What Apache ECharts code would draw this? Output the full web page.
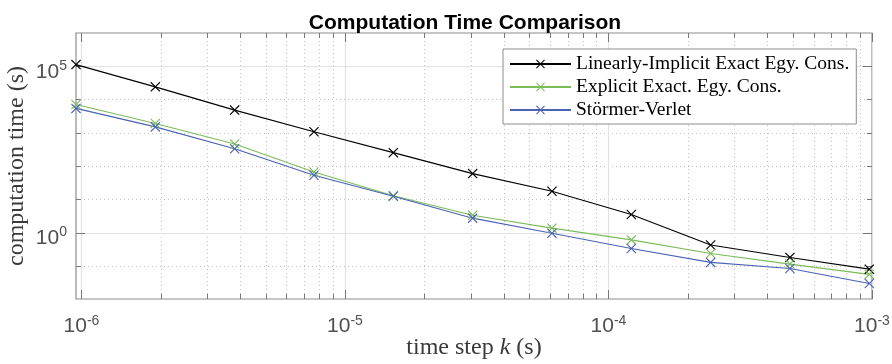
<!DOCTYPE html>
<html><head><meta charset="utf-8">
<script src="https://cdn.jsdelivr.net/npm/echarts@6/dist/echarts.min.js"></script>
<style>html,body{margin:0;padding:0;background:#fff}#c{width:892px;height:364px}</style>
</head><body><div id="c"></div>
<script>
const timeSteps = [9.5367e-7, 1.9073e-6, 3.8147e-6, 7.6294e-6, 1.5259e-5, 3.0518e-5, 6.1035e-5, 1.2207e-4, 2.4414e-4, 4.8828e-4, 9.7656e-4];
const linImplicit = [1.12e5, 2.4e4, 4.8e3, 1.07e3, 252, 59, 17.4, 3.47, 0.42, 0.178, 0.079];
const explicitEC  = [7.1e3, 1.9e3, 457, 66, 12.8, 3.3, 1.35, 0.6, 0.234, 0.112, 0.055];
const stormerVerlet = [5.4e3, 1.5e3, 331, 52.6, 12.3, 2.7, 0.95, 0.33, 0.126, 0.083, 0.0294];
const seriesNames = ['Linearly-Implicit Exact Egy. Cons.', 'Explicit Exact. Egy. Cons.', 'Störmer-Verlet'];
const seriesColors = ['#000000', '#7cbb5a', '#4a62b4'];
const xMin = 9.5367e-7, xMax = 1e-3, yMin = 0.01, yMax = 1e6;
const xMajorTicks = [1e-6, 1e-5, 1e-4, 1e-3];
const xMinorTicks = [2e-6,3e-6,4e-6,5e-6,6e-6,7e-6,8e-6,9e-6,2e-5,3e-5,4e-5,5e-5,6e-5,7e-5,8e-5,9e-5,2e-4,3e-4,4e-4,5e-4,6e-4,7e-4,8e-4,9e-4];
const yMajorTicks = [1, 1e5];
const yMinorTicks = [0.1, 10, 100, 1000, 1e4];
const yLabelExps = [0, 5];

const X_SYMBOL = 'path://M0,0.8L0.8,0L5,4.2L9.2,0L10,0.8L5.8,5L10,9.2L9.2,10L5,5.8L0.8,10L0,9.2L4.2,5Z';
const labelColor = '#505050';
const richLabel = {
  b: {fontFamily: 'Liberation Sans', fontSize: 21, color: labelColor, lineHeight: 21, verticalAlign: 'bottom'},
  s: {fontFamily: 'Liberation Sans', fontSize: 14, color: labelColor, lineHeight: 32, verticalAlign: 'middle'}
};
function expLabel(v, allowed) {
  const l = Math.log10(v);
  const e = Math.round(l);
  if (Math.abs(l - e) > 0.01) return '';
  if (allowed && allowed.indexOf(e) < 0) return '';
  return '{b|10}{s|' + e + '}';
}

function gridSeries(values, axis, major) {
  return {
    type: 'custom', silent: true, z: 1, animation: false,
    data: values.map(v => axis === 'x' ? [v, 1] : [xMajorTicks[0], v]),
    renderItem: function (params, api) {
      const cs = params.coordSys;
      const p = api.coord([api.value(0), api.value(1)]);
      const tl = major ? 9 : 5;
      const gridStyle = major ? {stroke: '#e2e2e2', lineWidth: 1.2} : {stroke: '#c2c2c2', lineWidth: 1, lineDash: [1, 3]};
      const tickStyle = {stroke: '#777777', lineWidth: 1};
      const ch = [];
      if (axis === 'x') {
        const x = Math.round(p[0]) + 0.5;
        const y0 = cs.y, y1 = cs.y + cs.height;
        ch.push({type: 'line', shape: {x1: x, y1: y0, x2: x, y2: y1}, style: gridStyle});
        ch.push({type: 'line', shape: {x1: x, y1: y1, x2: x, y2: y1 - tl}, style: tickStyle});
        ch.push({type: 'line', shape: {x1: x, y1: y0, x2: x, y2: y0 + tl}, style: tickStyle});
      } else {
        const y = Math.round(p[1]) + 0.5;
        const x0 = cs.x, x1 = cs.x + cs.width;
        ch.push({type: 'line', shape: {x1: x0, y1: y, x2: x1, y2: y}, style: gridStyle});
        ch.push({type: 'line', shape: {x1: x0, y1: y, x2: x0 + tl, y2: y}, style: tickStyle});
        ch.push({type: 'line', shape: {x1: x1, y1: y, x2: x1 - tl, y2: y}, style: tickStyle});
      }
      return {type: 'group', children: ch};
    }
  };
}

const dataSeries = [linImplicit, explicitEC, stormerVerlet].map((vals, i) => ({
  name: seriesNames[i], type: 'line', z: 3,
  data: timeSteps.map((t, j) => [t, vals[j]]),
  symbol: X_SYMBOL, symbolSize: 10, showSymbol: true,
  lineStyle: {color: seriesColors[i], width: 1.1},
  itemStyle: {color: seriesColors[i]},
  emphasis: {disabled: true}
}));

const chart = echarts.init(document.getElementById('c'), null, {renderer: 'canvas'});
chart.setOption({
  animation: false,
  backgroundColor: '#ffffff',
  title: {
    text: 'Computation Time Comparison', left: 460, top: 8, textAlign: 'center',
    textStyle: {fontFamily: 'Liberation Sans', fontWeight: 'bold', fontSize: 21, color: '#000'}
  },
  legend: {
    data: seriesNames, orient: 'vertical', left: 503, top: 49,
    padding: [5, 7, 4, 6], itemGap: 3, itemWidth: 61, itemHeight: 11,
    backgroundColor: '#ffffff', borderColor: '#8c8c8c', borderWidth: 1, borderRadius: 0,
    selectedMode: false,
    textStyle: {fontFamily: 'Liberation Serif', fontSize: 19.5, lineHeight: 19, color: '#000'}
  },
  grid: {left: 76, right: 20, top: 33, bottom: 65, show: true, borderColor: '#8c8c8c', borderWidth: 1.2, backgroundColor: '#fff', containLabel: false, outerBoundsMode: 'none'},
  xAxis: {
    type: 'log', logBase: 10, min: xMin, max: xMax,
    name: 'time step {i|k} (s)', nameLocation: 'middle', nameGap: 37, nameMoveOverlap: false,
    nameTextStyle: {fontFamily: 'Liberation Serif', fontSize: 24, color: '#3a3a3a',
      rich: {i: {fontFamily: 'Liberation Serif', fontStyle: 'italic', fontSize: 24, color: '#3a3a3a'}}},
    axisLine: {show: false}, axisTick: {show: false}, splitLine: {show: false},
    axisLabel: {margin: 6, formatter: v => expLabel(v), rich: richLabel}
  },
  yAxis: {
    type: 'log', logBase: 10, min: yMin, max: yMax,
    name: 'computation time (s)', nameLocation: 'middle', nameGap: 47, nameMoveOverlap: false,
    nameTextStyle: {fontFamily: 'Liberation Serif', fontSize: 24, color: '#3a3a3a'},
    axisLine: {show: false}, axisTick: {show: false}, splitLine: {show: false},
    axisLabel: {margin: 9, formatter: v => expLabel(v, yLabelExps), rich: richLabel}
  },
  series: [
    gridSeries(xMinorTicks, 'x', false),
    gridSeries(yMinorTicks, 'y', false),
    gridSeries(xMajorTicks, 'x', true),
    gridSeries(yMajorTicks, 'y', true)
  ].concat(dataSeries)
});
</script></body></html>
